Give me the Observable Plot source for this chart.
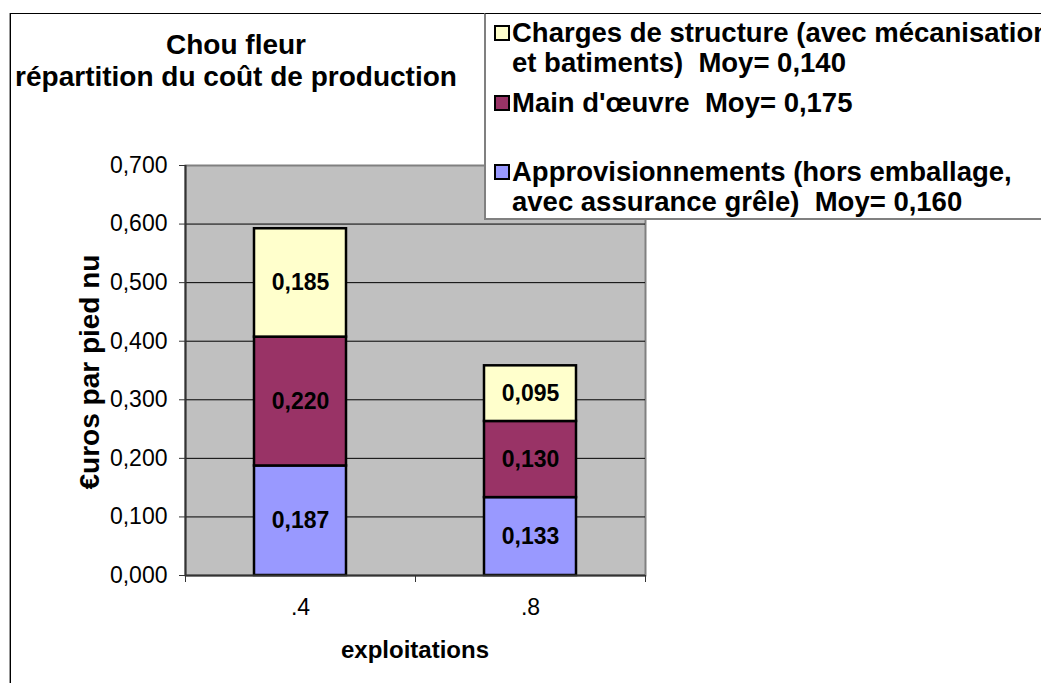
<!DOCTYPE html>
<html>
<head>
<meta charset="utf-8">
<script src="https://cdn.jsdelivr.net/npm/d3@7"></script>
<script src="https://cdn.jsdelivr.net/npm/@observablehq/plot@0.6"></script>
<style>
  html, body { margin: 0; padding: 0; background: #fff; }
  #wrap { position: relative; width: 1041px; height: 683px; overflow: hidden; background: #fff;
          font-family: "Liberation Sans", Arial, sans-serif; color: #000; }
  #border { position: absolute; left: 10px; top: 13px; width: 1100px; height: 800px;
            border-left: 1px solid #000; border-top: 1px solid #000; box-shadow: -1px 0 0 #999; }
  #chart { position: absolute; left: 0; top: 0; }
  #title { position: absolute; left: 0; width: 472px; top: 29px; text-align: center;
           font-weight: bold; font-size: 28px; line-height: 32px; white-space: nowrap; }
  #ylabel { position: absolute; left: 90px; top: 372px; transform: translate(-50%, -50%) rotate(-90deg);
            font-weight: bold; font-size: 28px; white-space: nowrap; }
  #xlabel { position: absolute; left: 415px; top: 650px; transform: translate(-50%, -50%);
            font-weight: bold; font-size: 24px; white-space: nowrap; }
  #legend { position: absolute; left: 484px; top: 13px; width: 700px; height: 204px; background: #fff;
            border-left: 2px solid #808080; border-bottom: 2px solid #808080; border-top: 1px solid #000; }
  .entry { position: absolute; left: 8px; font-weight: bold; font-size: 27.5px; line-height: 30px; white-space: pre; }
  .sw { position: absolute; left: 0; top: 7px; width: 12px; height: 12px; border: 2px solid #000; }
  .txt { position: absolute; left: 18px; top: 0; }
</style>
</head>
<body>
<div id="wrap">
  <div id="border"></div>
  <div id="chart"></div>
  <div id="title"></div>
  <div id="ylabel"></div>
  <div id="xlabel"></div>
  <div id="legend"></div>
</div>
<script>
// ---- data ----
const categories = [".4", ".8"];
const seriesNames = ["Approvisionnements", "Main d'œuvre", "Charges de structure"];
const approValues = [0.187, 0.133];
const mainValues = [0.220, 0.130];
const chargesValues = [0.185, 0.095];
const seriesColors = ["#9999FF", "#993366", "#FFFFCC"];
const legendLabels = [
  "Charges de structure (avec mécanisation\net batiments)  Moy= 0,140",
  "Main d'œuvre  Moy= 0,175",
  "Approvisionnements (hors emballage,\navec assurance grêle)  Moy= 0,160"
];
const legendColors = ["#FFFFCC", "#993366", "#9999FF"];
const yTicks = [0, 0.1, 0.2, 0.3, 0.4, 0.5, 0.6, 0.7];
const titleLines = ["Chou fleur", "répartition du coût de production"];
const yTitle = "€uros par pied nu";
const xTitle = "exploitations";

// ---- build stacked table ----
const seriesValues = [approValues, mainValues, chargesValues];
const rows = [];
categories.forEach((c, i) => {
  let acc = 0;
  seriesNames.forEach((s, k) => {
    const v = seriesValues[k][i];
    rows.push({cat: c, i, series: s, value: v, y1: acc, y2: acc + v});
    acc += v;
  });
});
const fmt = v => d3.format(".3f")(v).replace(".", ",");
const half = 0.2; // half bar width as fraction of category step
const centers = categories.map((c, i) => i + 0.5);
const bounds = d3.range(categories.length + 1);

const plot = Plot.plot({
  width: 1041,
  height: 683,
  marginLeft: 185,
  marginRight: 396,
  marginTop: 165,
  marginBottom: 108,
  style: {fontFamily: "'Liberation Sans', Arial, sans-serif", fontSize: "23px", color: "#000", background: "transparent"},
  x: {domain: [0, categories.length], axis: null},
  y: {domain: [0, 0.7], axis: null},
  color: {domain: seriesNames, range: seriesColors},
  marks: [
    Plot.frame({fill: "#C0C0C0", stroke: "#808080", strokeWidth: 2}),
    Plot.ruleY(yTicks.filter(v => v > 0 && v < 0.7), {stroke: "#000", strokeWidth: 1}),
    Plot.rect(rows, {x1: d => d.i + 0.5 - half, x2: d => d.i + 0.5 + half, y1: "y1", y2: "y2",
                     fill: "series", stroke: "#000", strokeWidth: 2.5}),
    Plot.text(rows, {x: d => d.i + 0.5, y: d => (d.y1 + d.y2) / 2, text: d => fmt(d.value),
                     fontWeight: "bold", fontSize: 23, fill: "#000"}),
    Plot.ruleX([0], {stroke: "#333", strokeWidth: 2}),
    Plot.ruleY([0], {stroke: "#333", strokeWidth: 2}),
    Plot.axisY({ticks: yTicks, tickFormat: fmt, tickSize: 6, tickPadding: 12, fontSize: 23, label: null, stroke: "#333"}),
    Plot.axisX({ticks: bounds, tickFormat: () => "", tickSize: 7, label: null, stroke: "#333"}),
    Plot.axisX({ticks: centers, tickFormat: v => categories[Math.floor(v)], tickSize: 0, tickPadding: 23, fontSize: 23, label: null})
  ]
});
document.getElementById("chart").appendChild(plot);

document.getElementById("title").innerHTML = titleLines.map(t => `<div>${t}</div>`).join("");
document.getElementById("ylabel").textContent = yTitle;
document.getElementById("xlabel").textContent = xTitle;

const legend = document.getElementById("legend");
const entryTops = [4, 74, 143];
legendLabels.forEach((lab, k) => {
  const e = document.createElement("div");
  e.className = "entry";
  e.style.top = entryTops[k] + "px";
  const sw = document.createElement("div");
  sw.className = "sw";
  sw.style.background = legendColors[k];
  const t = document.createElement("div");
  t.className = "txt";
  t.textContent = lab;
  e.appendChild(sw);
  e.appendChild(t);
  legend.appendChild(e);
});
</script>
</body>
</html>
